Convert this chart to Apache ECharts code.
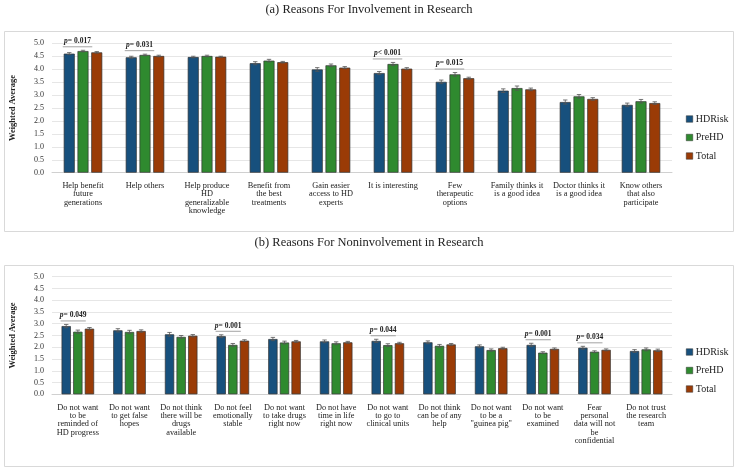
<!DOCTYPE html>
<html>
<head>
<meta charset="utf-8">
<script src="https://cdn.jsdelivr.net/npm/echarts@6/dist/echarts.min.js"></script>
<style>html,body{margin:0;padding:0;background:#fff}#c{width:738px;height:472px}</style>
</head>
<body>
<div id="c"></div>
<script>
// ---------- data ----------
const seriesNames = ['HDRisk', 'PreHD', 'Total'];
const yTicks = ['0.0','0.5','1.0','1.5','2.0','2.5','3.0','3.5','4.0','4.5','5.0'];

const categoriesA = ['Help benefit\nfuture\ngenerations', 'Help others', 'Help produce\nHD\ngeneralizable\nknowledge', 'Benefit from\nthe best\ntreatments', 'Gain easier\naccess to HD\nexperts', 'It is interesting', 'Few\ntherapeutic\noptions', 'Family thinks it\nis a good idea', 'Doctor thinks it\nis a good idea', 'Know others\nthat also\nparticipate'];
const hdriskA = [4.60, 4.46, 4.47, 4.23, 3.99, 3.85, 3.51, 3.17, 2.73, 2.62];
const prehdA  = [4.70, 4.55, 4.51, 4.33, 4.15, 4.20, 3.80, 3.27, 2.95, 2.76];
const totalA  = [4.65, 4.51, 4.48, 4.27, 4.06, 4.02, 3.65, 3.22, 2.85, 2.69];
const hdriskErrA = [0.04, 0.04, 0.03, 0.06, 0.07, 0.06, 0.07, 0.07, 0.08, 0.07];
const prehdErrA  = [0.03, 0.03, 0.03, 0.05, 0.05, 0.06, 0.07, 0.08, 0.07, 0.07];
const totalErrA  = [0.03, 0.03, 0.02, 0.03, 0.04, 0.04, 0.04, 0.05, 0.05, 0.05];
const pIndexA = [0, 1, 5, 6];
const pTextA  = ['= 0.017', '= 0.031', '< 0.001', '= 0.015'];

const categoriesB = ['Do not want\nto be\nreminded of\nHD progress', 'Do not want\nto get false\nhopes', 'Do not think\nthere will be\ndrugs\navailable', 'Do not feel\nemotionally\nstable', 'Do not want\nto take drugs\nright now', 'Do not have\ntime in life\nright now', 'Do not want\nto go to\nclinical units', 'Do not think\ncan be of any\nhelp', 'Do not want\nto be a\n"guinea pig"', 'Do not want\nto be\nexamined', 'Fear\npersonal\ndata will not\nbe\nconfidential', 'Do not trust\nthe research\nteam'];
const hdriskB = [2.90, 2.72, 2.55, 2.47, 2.35, 2.25, 2.27, 2.21, 2.04, 2.10, 1.98, 1.84];
const prehdB  = [2.66, 2.65, 2.44, 2.10, 2.20, 2.17, 2.09, 2.06, 1.88, 1.77, 1.81, 1.91];
const totalB  = [2.79, 2.69, 2.49, 2.28, 2.25, 2.21, 2.17, 2.12, 1.96, 1.93, 1.89, 1.87];
const hdriskErrB = [0.07, 0.07, 0.08, 0.06, 0.07, 0.06, 0.07, 0.06, 0.06, 0.07, 0.06, 0.06];
const prehdErrB  = [0.07, 0.07, 0.06, 0.06, 0.06, 0.06, 0.06, 0.06, 0.05, 0.04, 0.04, 0.06];
const totalErrB  = [0.05, 0.05, 0.05, 0.04, 0.04, 0.04, 0.04, 0.04, 0.04, 0.04, 0.04, 0.05];
const pIndexB = [0, 3, 6, 9, 10];
const pTextB  = ['= 0.049', '= 0.001', '= 0.044', '= 0.001', '= 0.034'];

// ---------- style ----------
const FONT = 'Liberation Serif';
const colors = ['#17507d', '#2f8a2f', '#9a3b06'];
const barW = [11, 9.3];
const gapRatio = 0.25;

function errData(vals, errs) {
  const out = [];
  vals.forEach((v, k) => v.forEach((y, i) => out.push([i, y, errs[k][i], k])));
  return out;
}
function pData(idx, txt, vals, errs) {
  return idx.map((i, n) => {
    let m = 0;
    vals.forEach((v, k) => { m = Math.max(m, v[i] + errs[k][i]); });
    return [i, m, txt[n]];
  });
}
function errRender(g) {
  return function (params, api) {
    const i = api.value(0), v = api.value(1), e = api.value(2), k = api.value(3);
    const bw = barW[g];
    const off = (k - 1) * bw * (1 + gapRatio);
    const c = api.coord([i, v]);
    const x = c[0] + off;
    const y1 = api.coord([i, v + e])[1];
    const y2 = api.coord([i, v - e])[1];
    const cap = 2.2;
    const st = { stroke: '#555', lineWidth: 0.8 };
    return { type: 'group', children: [
      { type: 'line', shape: { x1: x, y1: y1, x2: x, y2: y2 }, style: st },
      { type: 'line', shape: { x1: x - cap, y1: y1, x2: x + cap, y2: y1 }, style: st },
      { type: 'line', shape: { x1: x - cap, y1: y2, x2: x + cap, y2: y2 }, style: st }
    ] };
  };
}
function pRender(g) {
  return function (params, api) {
    const i = api.value(0), m = api.value(1);
    const txt = api.value(2);
    const bw = barW[g];
    const step = bw * (1 + gapRatio);
    const c = api.coord([i, m]);
    const xl = c[0] - step - bw / 2 - 1;
    const xr = c[0] + step - bw / 2 + 1;
    const y = c[1] - 3.5;
    return { type: 'group', children: [
      { type: 'line', shape: { x1: xl, y1: y, x2: xr, y2: y }, style: { stroke: '#8c8c8c', lineWidth: 0.8 } },
      { type: 'text', style: { x: (xl + xr) / 2, y: y - 1.5, text: '{i|p}' + txt, align: 'center', verticalAlign: 'bottom',
        fontFamily: FONT, fontSize: 7.5, fontWeight: 'bold', fill: '#222',
        rich: { i: { fontStyle: 'italic', fontFamily: FONT, fontSize: 7.5, fontWeight: 'bold', fill: '#222' } } } }
    ] };
  };
}

const gridsPos = [
  { left: 50, right: 66, top: 43.3, bottom: 299.3 },
  { left: 50, right: 66, top: 276.7, bottom: 77.7 }
];
const cats = [categoriesA, categoriesB];
const vals = [[hdriskA, prehdA, totalA], [hdriskB, prehdB, totalB]];
const errs = [[hdriskErrA, prehdErrA, totalErrA], [hdriskErrB, prehdErrB, totalErrB]];
const pIdx = [pIndexA, pIndexB];
const pTxt = [pTextA, pTextB];

const xAxis = [], yAxis = [], series = [];
[0, 1].forEach(g => {
  xAxis.push({
    type: 'category', gridIndex: g, data: cats[g],
    axisTick: { show: false },
    axisLine: { lineStyle: { color: '#d0d0d0' } },
    axisLabel: { interval: 0, fontFamily: FONT, fontSize: 8.3, color: '#1a1a1a', lineHeight: 8.4, margin: 9 }
  });
  yAxis.push({
    type: 'value', gridIndex: g, min: 0, max: 5, interval: 0.5,
    name: 'Weighted Average', nameLocation: 'middle', nameGap: 35,
    nameTextStyle: { fontFamily: FONT, fontSize: 8.5, fontWeight: 'bold', color: '#222' },
    axisLine: { show: false }, axisTick: { show: false },
    axisLabel: { fontFamily: FONT, fontSize: 8, color: '#333', margin: 8,
      formatter: (v) => yTicks[Math.round(v * 2)] },
    splitLine: { lineStyle: { color: '#e0e0e0', width: 0.8 } }
  });
  seriesNames.forEach((n, k) => {
    series.push({
      type: 'bar', name: n, xAxisIndex: g, yAxisIndex: g, data: vals[g][k],
      barWidth: barW[g], barGap: (gapRatio * 100) + '%',
      itemStyle: { color: colors[k], borderColor: '#333', borderWidth: 0.7 },
      silent: true
    });
  });
  series.push({
    type: 'custom', name: 'err' + g, xAxisIndex: g, yAxisIndex: g,
    data: errData(vals[g], errs[g]), renderItem: errRender(g), z: 5, silent: true
  });
  series.push({
    type: 'custom', name: 'p' + g, xAxisIndex: g, yAxisIndex: g,
    data: pData(pIdx[g], pTxt[g], vals[g], errs[g]), renderItem: pRender(g), z: 6, silent: true
  });
});

const legendCommon = {
  orient: 'vertical', left: 681, itemWidth: 6.5, itemHeight: 6.5, itemGap: 8.5, icon: 'rect',
  data: seriesNames, selectedMode: false,
  textStyle: { fontFamily: FONT, fontSize: 10, color: '#222', padding: [0, 0, 0, -2] },
  itemStyle: { borderColor: '#333', borderWidth: 0.5 }
};

const chart = echarts.init(document.getElementById('c'), null, { renderer: 'canvas' });
chart.setOption({
  animation: false,
  backgroundColor: '#fff',
  title: [
    { text: '(a) Reasons For Involvement in Research', left: 'center', top: 3, padding: 0,
      textStyle: { fontFamily: FONT, fontSize: 12.5, fontWeight: 'normal', color: '#222' } },
    { text: '(b) Reasons For Noninvolvement in Research', left: 'center', top: 236, padding: 0,
      textStyle: { fontFamily: FONT, fontSize: 12.5, fontWeight: 'normal', color: '#222' } }
  ],
  graphic: [
    { type: 'rect', shape: { x: 4.5, y: 31.5, width: 729, height: 200 }, style: { fill: 'none', stroke: '#d9d9d9', lineWidth: 1 }, silent: true },
    { type: 'rect', shape: { x: 4.5, y: 265.5, width: 729, height: 201 }, style: { fill: 'none', stroke: '#d9d9d9', lineWidth: 1 }, silent: true }
  ],
  legend: [
    Object.assign({ top: 109 }, legendCommon),
    Object.assign({ top: 342 }, legendCommon)
  ],
  grid: gridsPos,
  xAxis: xAxis,
  yAxis: yAxis,
  series: series
});
</script>
</body>
</html>
